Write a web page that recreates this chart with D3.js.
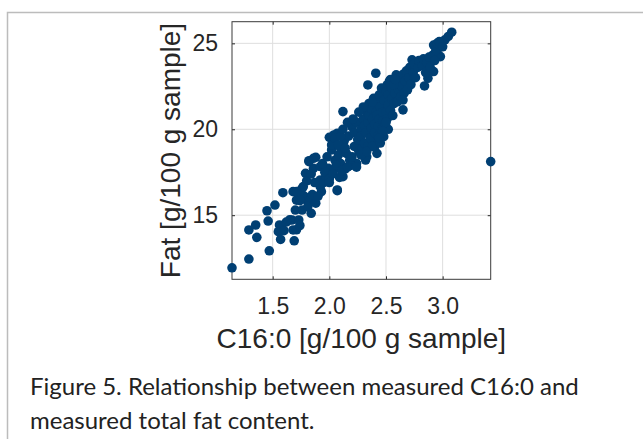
<!DOCTYPE html>
<html>
<head>
<meta charset="utf-8">
<script src="https://cdn.jsdelivr.net/npm/d3@7"></script>
<style>
  html, body { margin: 0; padding: 0; background: #fff; }
  svg { display: block; }
</style>
</head>
<body>
<svg id="chart" width="643" height="439"></svg>
<script>
// ---- data ----
const c16 = [
  1.141,1.29,1.47,1.29,1.35,1.36,1.46,1.45,1.52,1.59,1.56,1.55,1.57,1.69,1.68,1.67,1.73,1.70,1.71,1.68,
  1.76,1.80,1.84,1.79,1.82,1.88,1.86,1.92,1.93,2.07,1.99,2.02,2.00,2.07,2.12,2.20,2.34,2.41,2.33,2.51,
  2.49,2.65,2.62,2.59,2.73,2.84,2.87,2.92,2.90,2.86,2.80,2.98,2.92,2.96,2.99,3.02,3.05,3.08,3.424,2.40,
  2.48,2.32,2.36,
  1.71,1.65,1.74,1.60,1.62,1.76,1.74,1.78,1.74,1.77,1.71,1.74,1.83,1.92,1.87,1.85,1.81,1.88,1.90,1.95,
  1.97,2.04,2.07,2.12,1.86,1.92,1.82,1.80,1.84,1.96,2.00,2.02,2.04,2.20,2.24,2.33,2.39,2.27,2.36,2.42,
  2.05,2.08,2.10,2.10,2.13,2.15,2.17,2.18,2.19,2.14,2.22,2.22,2.24,2.25,2.26,2.28,2.28,2.29,2.30,2.31,
  2.31,2.32,2.33,2.34,2.34,2.35,2.35,2.36,2.37,2.37,2.38,2.38,2.39,2.40,2.40,2.41,2.42,2.42,2.43,2.43,
  2.44,2.44,2.45,2.45,2.46,2.46,2.47,2.47,2.48,2.49,2.50,2.50,2.51,2.52,2.52,2.53,2.54,2.55,2.55,2.56,
  2.57,2.58,2.59,2.60,2.61,2.62,2.63,2.64,2.65,2.66,2.67,2.68,2.69,2.70,2.71,2.72,2.74,2.75,2.76,2.78,
  2.79,2.82,2.83,2.85,2.86,2.88,2.89,2.91,2.93,2.94,2.95,2.97,3.00,
  2.05,2.08,2.10,2.12,2.14,2.16,1.94,1.98,2.00,2.03,2.06,2.09,2.11,2.16,2.20,2.24,2.28,2.33,2.30,2.54,
  2.57,2.65,2.52,2.47,2.38,2.26,2.21,2.44,2.50,2.58
];
const fat = [
  11.94,12.45,12.93,14.14,14.43,13.71,14.66,15.26,15.59,16.31,14.43,14.04,13.59,13.51,14.14,14.72,14.72,15.30,15.88,16.37,
  16.56,15.88,15.11,17.44,18.17,18.37,17.73,17.05,16.37,16.43,17.73,18.80,19.53,19.77,21.03,20.16,22.58,23.26,21.26,22.58,
  21.81,21.13,22.68,23.17,24.04,22.52,22.97,23.36,24.04,24.04,23.75,24.23,24.90,24.70,25.00,25.20,25.40,25.65,18.12,18.99,
  19.57,18.21,19.77,
  14.15,14.73,14.40,14.10,14.60,15.30,15.85,16.10,16.40,16.66,16.37,15.89,15.89,16.66,16.90,16.20,15.50,15.70,16.10,16.90,
  17.24,17.63,16.47,17.24,18.31,17.83,18.12,17.00,17.40,17.50,17.10,19.09,19.67,20.15,18.01,18.40,19.37,19.17,20.15,18.60,
  18.20,18.50,18.00,18.90,19.30,18.60,19.60,18.20,17.90,17.70,19.00,19.80,20.40,19.40,18.70,20.00,19.60,18.90,20.60,19.20,
  20.20,19.80,21.00,20.40,19.00,21.50,20.80,19.50,20.10,21.20,20.60,19.00,21.80,20.30,19.80,21.00,20.80,21.50,19.60,20.20,
  22.00,20.60,19.20,21.30,20.00,22.40,21.00,20.50,21.70,20.30,22.20,21.00,20.60,21.40,22.00,22.80,21.10,21.80,22.40,20.80,
  21.50,22.10,22.70,21.60,22.30,23.00,21.90,22.50,23.20,22.10,22.80,23.40,22.30,23.00,23.60,22.60,23.30,23.80,23.00,23.60,
  24.00,23.70,24.10,23.30,23.90,24.20,23.60,24.30,24.00,24.60,25.00,25.10,24.80,
  19.50,19.10,19.60,20.00,18.90,20.40,18.00,18.40,16.90,17.40,17.90,17.20,17.60,17.80,18.40,17.80,18.50,18.70,21.30,22.90,
  22.60,21.70,20.00,19.90,21.60,21.00,20.60,19.50,20.40,22.90
];
const xTicks = [1.5, 2.0, 2.5, 3.0];
const yTicks = [15, 20, 25];
const xLabel = "C16:0 [g/100 g sample]";
const yLabel = "Fat [g/100 g sample]";
const captionLines = [
  "Figure 5. Relationship between measured C16:0 and",
  "measured total fat content."
];

// ---- drawing ----
const svg = d3.select("#chart");
const plot = { left: 232, right: 490.7, top: 21.7, bottom: 279.3 };
const x = d3.scaleLinear().domain([1.141, 3.424]).range([plot.left, plot.right]);
const y = d3.scaleLinear().domain([11.27, 26.26]).range([plot.bottom, plot.top]);

// outer frame
svg.append("path")
  .attr("d", "M7.5,439 V12.5 H643")
  .attr("fill", "none").attr("stroke", "#bcbcbc").attr("stroke-width", 1.5);

const axisColor = "#262626";
const tickFont = "'Liberation Sans', Arial, Helvetica, sans-serif";

// grid
const g = svg.append("g");
g.selectAll("line.gx").data(xTicks).join("line")
  .attr("x1", d => x(d)).attr("x2", d => x(d))
  .attr("y1", plot.top).attr("y2", plot.bottom)
  .attr("stroke", "#dedede").attr("stroke-width", 1);
g.selectAll("line.gy").data(yTicks).join("line")
  .attr("y1", d => y(d)).attr("y2", d => y(d))
  .attr("x1", plot.left).attr("x2", plot.right)
  .attr("stroke", "#dedede").attr("stroke-width", 1);

// axes with inward ticks (d3 axes), labels
const tl = 3;
const xAxisB = d3.axisBottom(x).tickValues(xTicks).tickFormat(d3.format(".1f")).tickSizeInner(-tl).tickSizeOuter(0).tickPadding(18);
const xAxisT = d3.axisTop(x).tickValues(xTicks).tickFormat("").tickSizeInner(-tl).tickSizeOuter(0);
const yAxisL = d3.axisLeft(y).tickValues(yTicks).tickFormat(d3.format("d")).tickSizeInner(-tl).tickSizeOuter(0).tickPadding(14);
const yAxisR = d3.axisRight(y).tickValues(yTicks).tickFormat("").tickSizeInner(-tl).tickSizeOuter(0);

function styleAxis(sel) {
  sel.select(".domain").remove();
  sel.selectAll(".tick line").attr("stroke", axisColor);
  sel.selectAll(".tick text").attr("fill", axisColor)
    .style("font-family", tickFont).style("font-size", "23px");
}
svg.append("g").attr("transform", `translate(0,${plot.bottom})`).call(xAxisB).call(styleAxis);
svg.append("g").attr("transform", `translate(0,${plot.top})`).call(xAxisT).call(styleAxis);
svg.append("g").attr("transform", `translate(${plot.left},0)`).call(yAxisL).call(styleAxis);
svg.append("g").attr("transform", `translate(${plot.right},0)`).call(yAxisR).call(styleAxis);

// box
svg.append("rect")
  .attr("x", plot.left).attr("y", plot.top)
  .attr("width", plot.right - plot.left).attr("height", plot.bottom - plot.top)
  .attr("fill", "none").attr("stroke", "#3a3a3a").attr("stroke-width", 1);

// points
svg.append("g").selectAll("circle").data(c16.map((v, i) => [v, fat[i]])).join("circle")
  .attr("cx", d => x(d[0])).attr("cy", d => y(d[1]))
  .attr("r", 4.8).attr("fill", "#003f73");

// axis labels
svg.append("text")
  .attr("x", (plot.left + plot.right) / 2).attr("y", 348)
  .attr("text-anchor", "middle")
  .style("font-family", tickFont).style("font-size", "28px").attr("fill", axisColor)
  .text(xLabel);
svg.append("text")
  .attr("transform", `translate(180,${(plot.top + plot.bottom) / 2}) rotate(-90)`)
  .attr("text-anchor", "middle")
  .style("font-family", tickFont).style("font-size", "28px").attr("fill", axisColor)
  .text(yLabel);

// caption
svg.append("g").selectAll("text").data(captionLines).join("text")
  .attr("x", 30).attr("y", (d, i) => 395 + i * 34)
  .style("font-family", "Lato, 'Noto Sans', sans-serif").style("font-size", "24px")
  .attr("fill", "#222").text(d => d);
</script>
</body>
</html>
